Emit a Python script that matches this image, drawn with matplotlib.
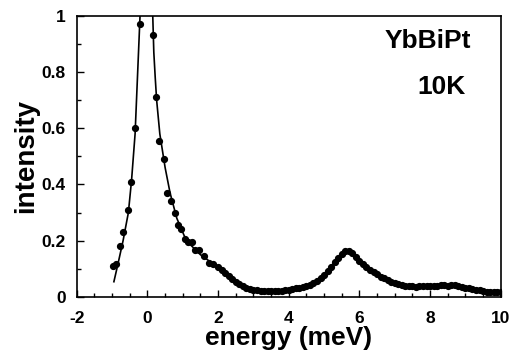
import matplotlib
matplotlib.use('Agg')
import matplotlib.pyplot as plt
from matplotlib.ticker import MultipleLocator
import numpy as np

# measured points, sparse part around the elastic line
sparse_x = [-0.98, -0.89, -0.77, -0.68, -0.56, -0.47, -0.36, -0.22,
            0.165, 0.25, 0.34, 0.46, 0.55, 0.67, 0.77, 0.87, 0.95, 1.05,
            1.15, 1.25, 1.34, 1.46, 1.60, 1.74, 1.85]
sparse_y = [0.111, 0.116, 0.18, 0.23, 0.31, 0.41, 0.60, 0.97,
            0.93, 0.71, 0.553, 0.49, 0.37, 0.34, 0.30, 0.254, 0.24, 0.207,
            0.194, 0.196, 0.168, 0.167, 0.145, 0.12, 0.117]

# dense part, 2.0 .. 10.0 meV in steps of 0.1
dense_x = [round(2.0 + 0.1 * i, 1) for i in range(81)]
dense_y = [0.105, 0.096, 0.086, 0.074, 0.064, 0.054, 0.045, 0.038, 0.032, 0.028,
           0.025, 0.023, 0.022, 0.021, 0.020, 0.021, 0.020, 0.022, 0.021, 0.023,
           0.025, 0.027, 0.030, 0.032, 0.035, 0.039, 0.044, 0.050, 0.058, 0.067,
           0.078, 0.092, 0.108, 0.125, 0.140, 0.152, 0.162, 0.165, 0.155, 0.142,
           0.128, 0.117, 0.106, 0.097, 0.089, 0.080, 0.072, 0.066, 0.059, 0.054,
           0.049, 0.045, 0.043, 0.040, 0.039, 0.037, 0.036, 0.037, 0.038, 0.037,
           0.039, 0.040, 0.038, 0.041, 0.043, 0.040, 0.041, 0.043, 0.039, 0.035,
           0.033, 0.031, 0.028, 0.025, 0.023, 0.020, 0.018, 0.017, 0.016, 0.018,
           0.017]

# fit curve (nan splits the two flanks of the clipped peak)
fit_x = [-0.95, -0.83, -0.69, -0.54, -0.45, -0.35, -0.29, -0.25, -0.21, np.nan,
         0.15, 0.18, 0.22, 0.26, 0.35, 0.5, 0.64, 0.83, 1.1, 1.5, 2.0, 2.5, 3.0,
         3.5, 4.0, 4.5, 5.0, 5.3, 5.6, 5.8, 6.1, 6.5, 7.0, 7.5, 8.0, 8.5, 9.0,
         9.5, 10.0]
fit_y = [0.054, 0.12, 0.20, 0.30, 0.415, 0.58, 0.76, 0.88, 1.0, np.nan,
         1.0, 0.87, 0.78, 0.70, 0.58, 0.46, 0.37, 0.28, 0.20, 0.15, 0.105, 0.054,
         0.026, 0.021, 0.025, 0.039, 0.078, 0.125, 0.160, 0.155, 0.117, 0.080,
         0.049, 0.037, 0.039, 0.040, 0.033, 0.020, 0.017]

plt.rcParams['font.family'] = ['Liberation Sans', 'DejaVu Sans']
plt.rcParams['font.weight'] = 'bold'
plt.rcParams['axes.unicode_minus'] = False

fig = plt.figure(figsize=(5.12, 3.59), dpi=100)
ax = fig.add_axes([0.150, 0.173, 0.828, 0.783])

ax.plot(fit_x, fit_y, color='black', lw=1.2)
ax.plot(sparse_x, sparse_y, 'o', color='black', ms=4.2)
ax.plot(dense_x, dense_y, 'o', color='black', ms=4.2)

ax.set_xlim(-2, 10)
ax.set_ylim(0, 1)
ax.xaxis.set_major_locator(MultipleLocator(2))
ax.xaxis.set_minor_locator(MultipleLocator(0.5))
ax.yaxis.set_minor_locator(MultipleLocator(0.1))
ax.set_yticks([0, 0.2, 0.4, 0.6, 0.8, 1.0])
ax.set_yticklabels(['0', '0.2', '0.4', '0.6', '0.8', '1'])
ax.tick_params(which='both', direction='in', labelsize=12.5, width=1)
ax.tick_params(which='major', length=5)
ax.tick_params(which='minor', length=3)
ax.tick_params(axis='x', pad=10)
ax.tick_params(axis='y', pad=8)
for lab in ax.get_xticklabels() + ax.get_yticklabels():
    lab.set_fontweight('bold')
for sp in ax.spines.values():
    sp.set_linewidth(1.2)

ax.set_xlabel('energy (meV)', fontsize=19, fontweight='bold', labelpad=0)
ax.set_ylabel('intensity', fontsize=20, fontweight='bold', labelpad=2)

ax.text(7.93, 0.91, 'YbBiPt', fontsize=19, fontweight='bold',
        ha='center', va='center')
ax.text(8.32, 0.747, '10K', fontsize=19, fontweight='bold',
        ha='center', va='center')

fig.savefig('out.png', dpi=100)
